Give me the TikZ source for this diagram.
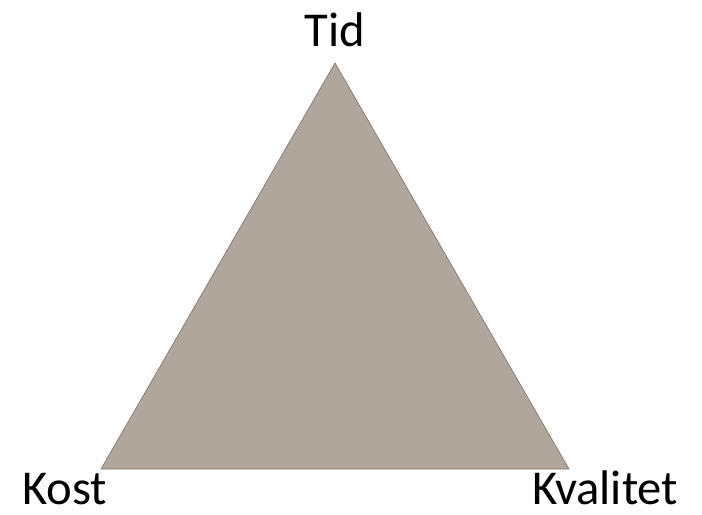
\documentclass[tikz,border=0pt]{standalone}
\usepackage{fontspec}
\setmainfont{Carlito}
\usepackage{tikz}
\usepackage{xcolor}
\definecolor{triFill}{HTML}{B0A69C}
\definecolor{triLine}{HTML}{7F766D}

\begin{document}
\begin{tikzpicture}[x=0.75pt,y=-0.75pt,
  corner/.style={font=\fontsize{36.5}{40}\selectfont,inner sep=0pt,text depth=0pt,anchor=base}]
\useasboundingbox (0,0) rectangle (702,514);
\coordinate (top) at (335,63);
\coordinate (left) at (101,469);
\coordinate (right) at (569,469);
\fill[triFill] (top)--(left)--(right)--cycle;
\draw[triLine,line width=0.5pt,line join=miter] (top)--(left)--(right)--cycle;
\node[corner] (tid) at (335,46) {Tid};
\node[corner,anchor=base west] (kost) at (22,504) {Kost};
\node[corner,anchor=base west] (kvalitet) at (532,504) {Kvalitet};
\end{tikzpicture}
\end{document}
